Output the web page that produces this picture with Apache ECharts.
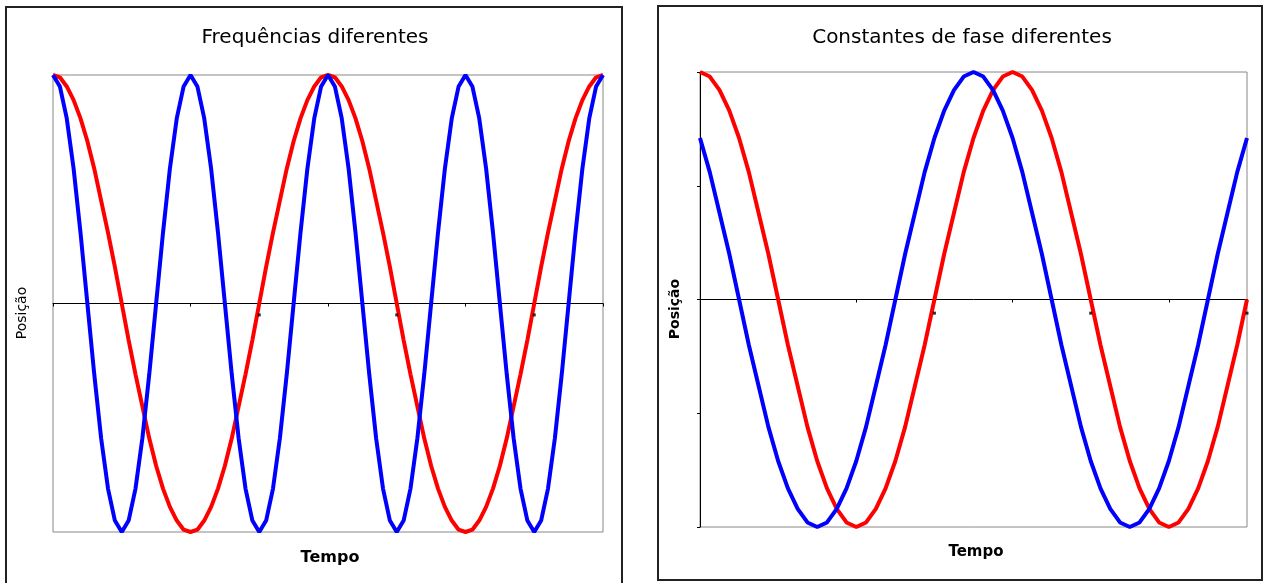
<!DOCTYPE html>
<html>
<head>
<meta charset="utf-8">
<script src="https://cdn.jsdelivr.net/npm/echarts@6/dist/echarts.min.js"></script>
<style>
  html, body { margin: 0; padding: 0; background: #fff; }
  #show { width: 1265px; height: 583px; }
</style>
</head>
<body>
<div id="show"></div>
<script>
var myChart = echarts.init(document.getElementById("show"));

// grafico 1: frequencias diferentes (amostras 0..80)
var leftRed = [
    1, 0.99, 0.95, 0.89, 0.81, 0.71, 0.59, 0.45, 0.31, 0.16,
    0, -0.16, -0.31, -0.45, -0.59, -0.71, -0.81, -0.89, -0.95, -0.99,
    -1, -0.99, -0.95, -0.89, -0.81, -0.71, -0.59, -0.45, -0.31, -0.16,
    0, 0.16, 0.31, 0.45, 0.59, 0.71, 0.81, 0.89, 0.95, 0.99,
    1, 0.99, 0.95, 0.89, 0.81, 0.71, 0.59, 0.45, 0.31, 0.16,
    0, -0.16, -0.31, -0.45, -0.59, -0.71, -0.81, -0.89, -0.95, -0.99,
    -1, -0.99, -0.95, -0.89, -0.81, -0.71, -0.59, -0.45, -0.31, -0.16,
    0, 0.16, 0.31, 0.45, 0.59, 0.71, 0.81, 0.89, 0.95, 0.99,
    1
];
var leftBlue = [
    1, 0.95, 0.81, 0.59, 0.31, 0, -0.31, -0.59, -0.81, -0.95,
    -1, -0.95, -0.81, -0.59, -0.31, 0, 0.31, 0.59, 0.81, 0.95,
    1, 0.95, 0.81, 0.59, 0.31, 0, -0.31, -0.59, -0.81, -0.95,
    -1, -0.95, -0.81, -0.59, -0.31, 0, 0.31, 0.59, 0.81, 0.95,
    1, 0.95, 0.81, 0.59, 0.31, 0, -0.31, -0.59, -0.81, -0.95,
    -1, -0.95, -0.81, -0.59, -0.31, 0, 0.31, 0.59, 0.81, 0.95,
    1, 0.95, 0.81, 0.59, 0.31, 0, -0.31, -0.59, -0.81, -0.95,
    -1, -0.95, -0.81, -0.59, -0.31, 0, 0.31, 0.59, 0.81, 0.95,
    1
];
var leftDots = [[30, -0.05], [50, -0.05], [70, -0.05]];

// grafico 2: constantes de fase diferentes (amostras 0..56)
var rightRed = [
    1, 0.98, 0.92, 0.83, 0.71, 0.56, 0.38, 0.2, 0, -0.2, -0.38, -0.56, -0.71, -0.83, -0.92, -0.98,
    -1, -0.98, -0.92, -0.83, -0.71, -0.56, -0.38, -0.2, 0, 0.2, 0.38, 0.56, 0.71, 0.83, 0.92, 0.98,
    1, 0.98, 0.92, 0.83, 0.71, 0.56, 0.38, 0.2, 0, -0.2, -0.38, -0.56, -0.71, -0.83, -0.92, -0.98,
    -1, -0.98, -0.92, -0.83, -0.71, -0.56, -0.38, -0.2, 0
];
var rightBlue = [
    0.71, 0.56, 0.38, 0.2, 0, -0.2, -0.38, -0.56, -0.71, -0.83, -0.92, -0.98, -1, -0.98, -0.92, -0.83,
    -0.71, -0.56, -0.38, -0.2, 0, 0.2, 0.38, 0.56, 0.71, 0.83, 0.92, 0.98, 1, 0.98, 0.92, 0.83,
    0.71, 0.56, 0.38, 0.2, 0, -0.2, -0.38, -0.56, -0.71, -0.83, -0.92, -0.98, -1, -0.98, -0.92, -0.83,
    -0.71, -0.56, -0.38, -0.2, 0, 0.2, 0.38, 0.56, 0.71
];
var rightDots = [[24, -0.06], [40, -0.06], [56, -0.06]];

function pares(arr) {
    return arr.map(function (v, i) { return [i, v]; });
}

var fonte = '"DejaVu Sans", Verdana, sans-serif';

function texto(x, y, s, size, weight, rot) {
    return {
        type: 'text', x: x, y: y, rotation: rot || 0, z: 100,
        style: {
            text: s, fill: '#000', font: (weight || 'normal') + ' ' + size + 'px ' + fonte,
            align: 'center', verticalAlign: 'middle'
        }
    };
}

function eixoX(idx, max, interval) {
    return {
        type: 'value', gridIndex: idx, min: 0, max: max, interval: interval,
        axisLine: { show: true, onZero: true, lineStyle: { color: '#000', width: 1 } },
        axisTick: { show: true, length: 3, lineStyle: { color: '#000' } },
        axisLabel: { show: false },
        splitLine: { show: false }
    };
}

myChart.setOption(option = {
    animation: false,
    grid: [
        { left: 53, top: 75, width: 550, height: 457, show: true, borderColor: '#888', borderWidth: 1 },
        { left: 700, top: 72, width: 547, height: 455, show: true, borderColor: '#888', borderWidth: 1 }
    ],
    xAxis: [eixoX(0, 80, 20), eixoX(1, 56, 16)],
    yAxis: [
        {
            type: 'value', gridIndex: 0, min: -1, max: 1, interval: 0.5,
            axisLine: { show: false }, axisTick: { show: false },
            axisLabel: { show: false }, splitLine: { show: false }
        },
        {
            type: 'value', gridIndex: 1, min: -1, max: 1, interval: 0.5,
            axisLine: { show: true, lineStyle: { color: '#000', width: 1 } },
            axisTick: { show: true, length: 3, lineStyle: { color: '#000' } },
            axisLabel: { show: false }, splitLine: { show: false }
        }
    ],
    series: [
        { type: 'line', xAxisIndex: 0, yAxisIndex: 0, data: pares(leftRed), showSymbol: false,
          lineStyle: { color: '#ff0000', width: 4 }, z: 2 },
        { type: 'line', xAxisIndex: 0, yAxisIndex: 0, data: pares(leftBlue), showSymbol: false,
          lineStyle: { color: '#0000ff', width: 4 }, z: 3 },
        { type: 'scatter', xAxisIndex: 0, yAxisIndex: 0, data: leftDots, symbol: 'rect', symbolSize: 3,
          itemStyle: { color: '#000' }, z: 5 },
        { type: 'line', xAxisIndex: 1, yAxisIndex: 1, data: pares(rightRed), showSymbol: false,
          lineStyle: { color: '#ff0000', width: 4 }, z: 2 },
        { type: 'line', xAxisIndex: 1, yAxisIndex: 1, data: pares(rightBlue), showSymbol: false,
          lineStyle: { color: '#0000ff', width: 4 }, z: 3 },
        { type: 'scatter', xAxisIndex: 1, yAxisIndex: 1, data: rightDots, symbol: 'rect', symbolSize: 3,
          itemStyle: { color: '#000' }, z: 5 }
    ],
    graphic: [
        { type: 'rect', shape: { x: 6, y: 7, width: 616, height: 600 },
          style: { fill: null, stroke: '#222', lineWidth: 2 }, z: 100 },
        { type: 'rect', shape: { x: 658, y: 6, width: 604, height: 574 },
          style: { fill: null, stroke: '#222', lineWidth: 2 }, z: 100 },
        texto(315, 38, 'Frequências diferentes', 20),
        texto(962, 38, 'Constantes de fase diferentes', 20),
        texto(330, 558, 'Tempo', 16, 'bold'),
        texto(976, 552, 'Tempo', 15, 'bold'),
        texto(22, 313, 'Posição', 14, 'normal', Math.PI / 2),
        texto(675, 309, 'Posição', 14, 'bold', Math.PI / 2)
    ]
});
</script>
</body>
</html>
